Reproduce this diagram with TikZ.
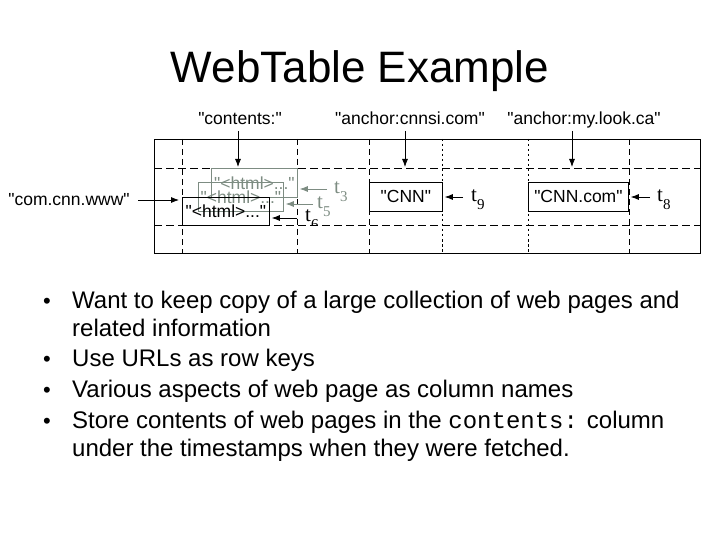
\documentclass[tikz,border=0pt]{standalone}
\usepackage{fontspec}
\setmainfont{Liberation Sans}
\setmonofont{Liberation Mono}
\newfontfamily\seriffont{Liberation Serif}
\usetikzlibrary{arrows.meta}
\definecolor{ghost}{RGB}{125,140,130}
\newcommand{\qq}{\textquotedbl}
\newcommand{\tlab}[1]{{\seriffont\fontsize{21}{23}\selectfont t\raisebox{-0.75ex}{\fontsize{15}{16}\selectfont #1}}}
\tikzset{
  lbl/.style={font=\fontsize{17.5}{19}\selectfont, inner sep=0pt, anchor=base},
  cellbox/.style={draw, line width=0.8pt, inner sep=0pt, font=\fontsize{17.5}{19}\selectfont},
  arr/.style={-{Latex[length=8pt,width=6pt]}, line width=0.8pt},
  dashv/.style={dash pattern=on 6pt off 4pt, line width=0.8pt},
  doty/.style={dash pattern=on 2.5pt off 2.5pt, line width=0.8pt},
  tl/.style={inner sep=0pt, anchor=base west},
  bul/.style={font=\fontsize{24}{28}\selectfont, anchor=base west, inner sep=0pt},
  dot/.style={font=\fontsize{22}{24}\selectfont, anchor=base west, inner sep=0pt},
}
\begin{document}
\begin{tikzpicture}[x=1pt,y=-1pt]
\useasboundingbox (0,0) rectangle (720,540);
% title
\node[font=\fontsize{44}{50}\selectfont, anchor=base, inner sep=0pt] (title) at (360,83) {WebTable Example};
% table grid
\node[draw, line width=0.8pt, minimum width=546pt, minimum height=114pt, inner sep=0pt, anchor=north west] (tbl) at (154,139) {};
\draw[dash pattern=on 8pt off 4pt, line width=0.8pt] (154,168) -- (700,168);
\draw[dash pattern=on 8pt off 4pt, line width=0.8pt] (154,225) -- (700,225);
\foreach \x in {182,297,369,629} \draw[dashv] (\x,139) -- (\x,253);
\foreach \x in {442,528} \draw[doty] (\x,139) -- (\x,253);
% column labels
\node[lbl] (colc) at (240,125) {\qq contents:\qq};
\node[lbl] (cola) at (410,125) {\qq anchor:cnnsi.com\qq};
\node[lbl] (colm) at (584,125) {\qq anchor:my.look.ca\qq};
\coordinate (ca1) at (238,131); \coordinate (cb1) at (238,167);
\coordinate (ca2) at (405,131); \coordinate (cb2) at (405,167);
\coordinate (ca3) at (572,131); \coordinate (cb3) at (572,167);
\draw[arr] (ca1) -- (cb1);
\draw[arr] (ca2) -- (cb2);
\draw[arr] (ca3) -- (cb3);
% row label
\node[lbl] (row) at (69,206) {\qq com.cnn.www\qq};
\coordinate (ra) at (138,200); \coordinate (rb) at (179,200);
\draw[arr] (ra) -- (rb);
% cells
\node[cellbox, ghost, minimum width=86pt, minimum height=29pt, anchor=north west] (h3) at (211,168) {\qq<html>...\qq};
\node[cellbox, ghost, minimum width=85pt, minimum height=29pt, anchor=north west] (h5) at (198,182) {\qq<html>...\qq};
\node[cellbox, minimum width=87pt, minimum height=28pt, anchor=north west] (h6) at (182,197) {\qq<html>...\qq};
\node[cellbox, minimum width=73pt, minimum height=29pt, anchor=north west] (cnn) at (369,182) {\qq CNN\qq};
\node[cellbox, minimum width=100pt, minimum height=29pt, anchor=north west] (cnncom) at (528,182) {\qq CNN.com\qq};
% timestamps
\node[tl, ghost] (t3) at (334,194) {\tlab{3}};
\node[tl, ghost] (t5) at (317,209) {\tlab{5}};
\begin{scope}
\clip (290,200) rectangle (340,225);
\node[tl] (t6) at (305,222) {\tlab{6}};
\end{scope}
\node[tl] (t9) at (471,202) {\tlab{9}};
\node[tl] (t8) at (657,202) {\tlab{8}};
\coordinate (s3) at (327,189);
\coordinate (s5) at (313,204);
\coordinate (s6) at (297,218);
\coordinate (s9) at (463,197);
\coordinate (s8) at (650,197);
\draw[arr, ghost] (s3) -- ([xshift=2pt]s3 -| h3.east);
\draw[arr, ghost] (s5) -- ([xshift=2pt]s5 -| h5.east);
\draw[arr] (s6) -- ([xshift=2pt]s6 -| h6.east);
\draw[arr] (s9) -- ([xshift=2pt]s9 -| cnn.east);
\draw[arr] (s8) -- ([xshift=2pt]s8 -| cnncom.east);
% bullets
\foreach \y/\n in {308/b1,366/b2,397/b3,428/b4} \node[dot] (\n) at (43,\y) {•};
\node[bul] (l1) at (72,308) {Want to keep copy of a large collection of web pages and};
\node[bul] (l2) at (72,336) {related information};
\node[bul] (l3) at (72,366) {Use URLs as row keys};
\node[bul] (l4) at (72,397) {Various aspects of web page as column names};
\node[bul] (l5) at (72,428) {Store contents of web pages in the \texttt{contents:} column};
\node[bul] (l6) at (72,456) {under the timestamps when they were fetched.};
\end{tikzpicture}
\end{document}
